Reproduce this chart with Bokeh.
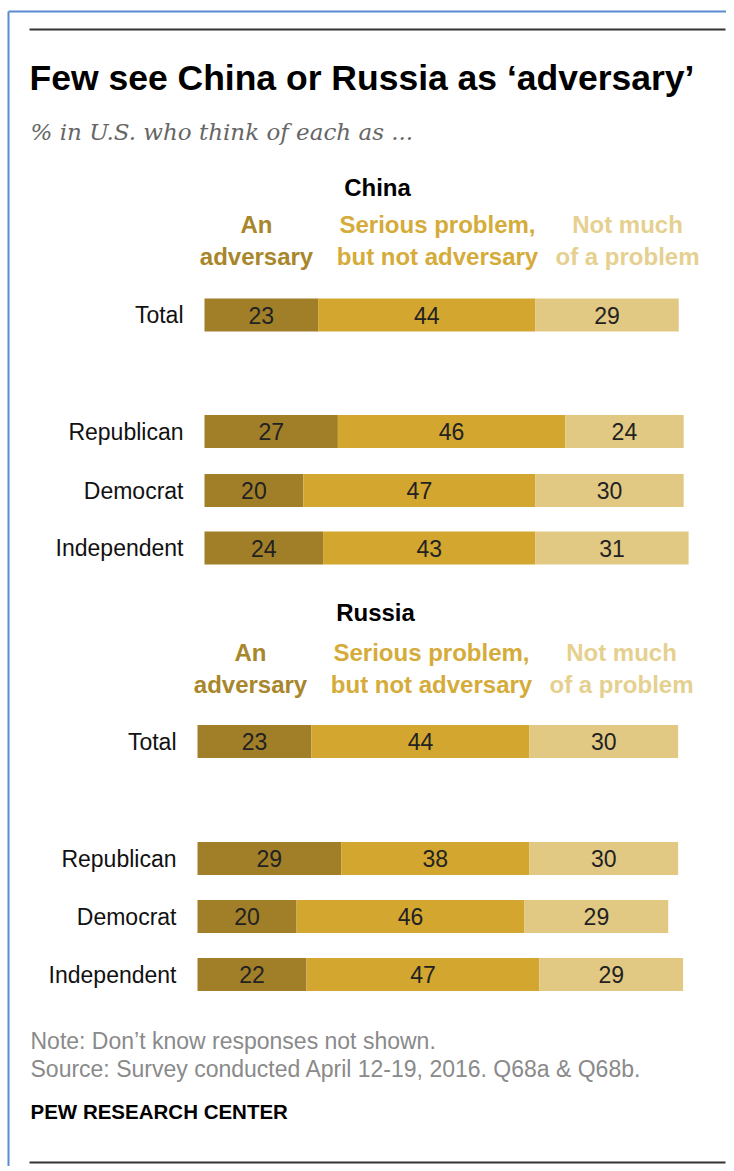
from bokeh.plotting import figure
from bokeh.models import Range1d, ColumnDataSource, Label
from bokeh.core.properties import value
from bokeh.embed import file_html
from bokeh.resources import INLINE

# ---------------- data ----------------
groups = ["Total", "Republican", "Democrat", "Independent"]
china_adversary = [23, 27, 20, 24]
china_serious = [44, 46, 47, 43]
china_not_much = [29, 24, 30, 31]
russia_adversary = [23, 29, 20, 22]
russia_serious = [44, 38, 46, 47]
russia_not_much = [30, 30, 29, 29]
header_lines = [("An", "adversary"),
                ("Serious problem,", "but not adversary"),
                ("Not much", "of a problem")]
title = "Few see China or Russia as \u2018adversary\u2019"
subtitle = "% in U.S. who think of each as ..."
note = "Note: Don\u2019t know responses not shown."
source = "Source: Survey conducted April 12-19, 2016. Q68a & Q68b."
credit = "PEW RESEARCH CENTER"

# ---------------- style / layout ----------------
BAR_COLORS = ["#A07F28", "#D3A630", "#E2C983"]
HEAD_COLORS = ["#A8862C", "#D5AB3A", "#E6D08F"]
W, H = 726, 1166

SANS = "Liberation Sans"

panels = [
    dict(name="China", key="china", vals=(china_adversary, china_serious, china_not_much),
         x0=204, ppu=4.94, title_xy=(377, 187), head_y=(224, 256),
         head_x=(256, 437, 627), row_y=[314.5, 431, 490, 547.5]),
    dict(name="Russia", key="russia", vals=(russia_adversary, russia_serious, russia_not_much),
         x0=197, ppu=4.955, title_xy=(375, 612), head_y=(652, 684),
         head_x=(250, 431, 621), row_y=[741, 858, 916, 974]),
]

p = figure(width=W, height=H, output_backend="svg", toolbar_location=None,
           x_range=Range1d(0, W), y_range=Range1d(H, 0),
           x_axis_type=None, y_axis_type=None, min_border=0,
           background_fill_color="white", border_fill_color="white")
p.outline_line_color = None
p.xgrid.visible = False
p.ygrid.visible = False

for pn in panels:
    p.extra_x_ranges[pn["key"]] = Range1d((0 - pn["x0"]) / pn["ppu"],
                                          (W - pn["x0"]) / pn["ppu"])

# frame (screenshot border) and rules
p.segment(x0=[8, 8], y0=[11, 11], x1=[8, W], y1=[H, 11],
          line_color="#5B8BD0", line_width=2)
p.segment(x0=[29, 29], y0=[29, 1162], x1=[725, 725], y1=[29, 1162],
          line_color="#333333", line_width=2)

def add_label(x, y, text, size, color="#000000", bold=False, italic=False,
              font=SANS, align="left"):
    style = "normal"
    if bold and italic:
        style = "bold italic"
    elif bold:
        style = "bold"
    elif italic:
        style = "italic"
    p.add_layout(Label(x=x, y=y, text=text, text_font=font,
                       text_font_size=f"{size}px", text_color=color,
                       text_font_style=style, text_align=align,
                       text_baseline="middle"))

add_label(29, 77, title, 35.5, bold=True)
add_label(30, 131, subtitle, 23, color="#666666", italic=True, font="DejaVu Serif")

for pn in panels:
    rng = pn["key"]
    tx, ty = pn["title_xy"]
    add_label(tx, ty, pn["name"], 24, bold=True, align="center")
    for i, (l1, l2) in enumerate(header_lines):
        add_label(pn["head_x"][i], pn["head_y"][0], l1, 24, color=HEAD_COLORS[i],
                  bold=True, align="center")
        add_label(pn["head_x"][i], pn["head_y"][1], l2, 24, color=HEAD_COLORS[i],
                  bold=True, align="center")

    # stacked bars
    a, s, n = pn["vals"]
    lefts = [[0] * len(a), list(a), [x + y for x, y in zip(a, s)]]
    rights = [list(a), [x + y for x, y in zip(a, s)], [x + y + z for x, y, z in zip(a, s, n)]]
    for k, vals in enumerate((a, s, n)):
        src = ColumnDataSource(dict(
            y=pn["row_y"], left=lefts[k], right=rights[k],
            mid=[(l + r) / 2 for l, r in zip(lefts[k], rights[k])],
            label=[str(v) for v in vals]))
        p.hbar(y="y", left="left", right="right", height=33, source=src,
               fill_color=BAR_COLORS[k], line_color=None, x_range_name=rng)
        p.text(x="mid", y="y", text="label", source=src, x_range_name=rng,
               text_font=value(SANS), text_font_size="23px", text_color="#222222",
               text_align="center", text_baseline="middle")

    # row labels
    lab_src = ColumnDataSource(dict(x=[pn["x0"] - 21] * len(groups), y=pn["row_y"],
                                    t=groups))
    p.text(x="x", y="y", text="t", source=lab_src, text_font=value(SANS),
           text_font_size="23px", text_color="#111111", text_align="right",
           text_baseline="middle")

add_label(30, 1040, note, 23, color="#8A8A8A")
add_label(30, 1068, source, 23, color="#8A8A8A")
add_label(30, 1111, credit, 20.5, bold=True)

open("out.html", "w").write(file_html(p, INLINE))
